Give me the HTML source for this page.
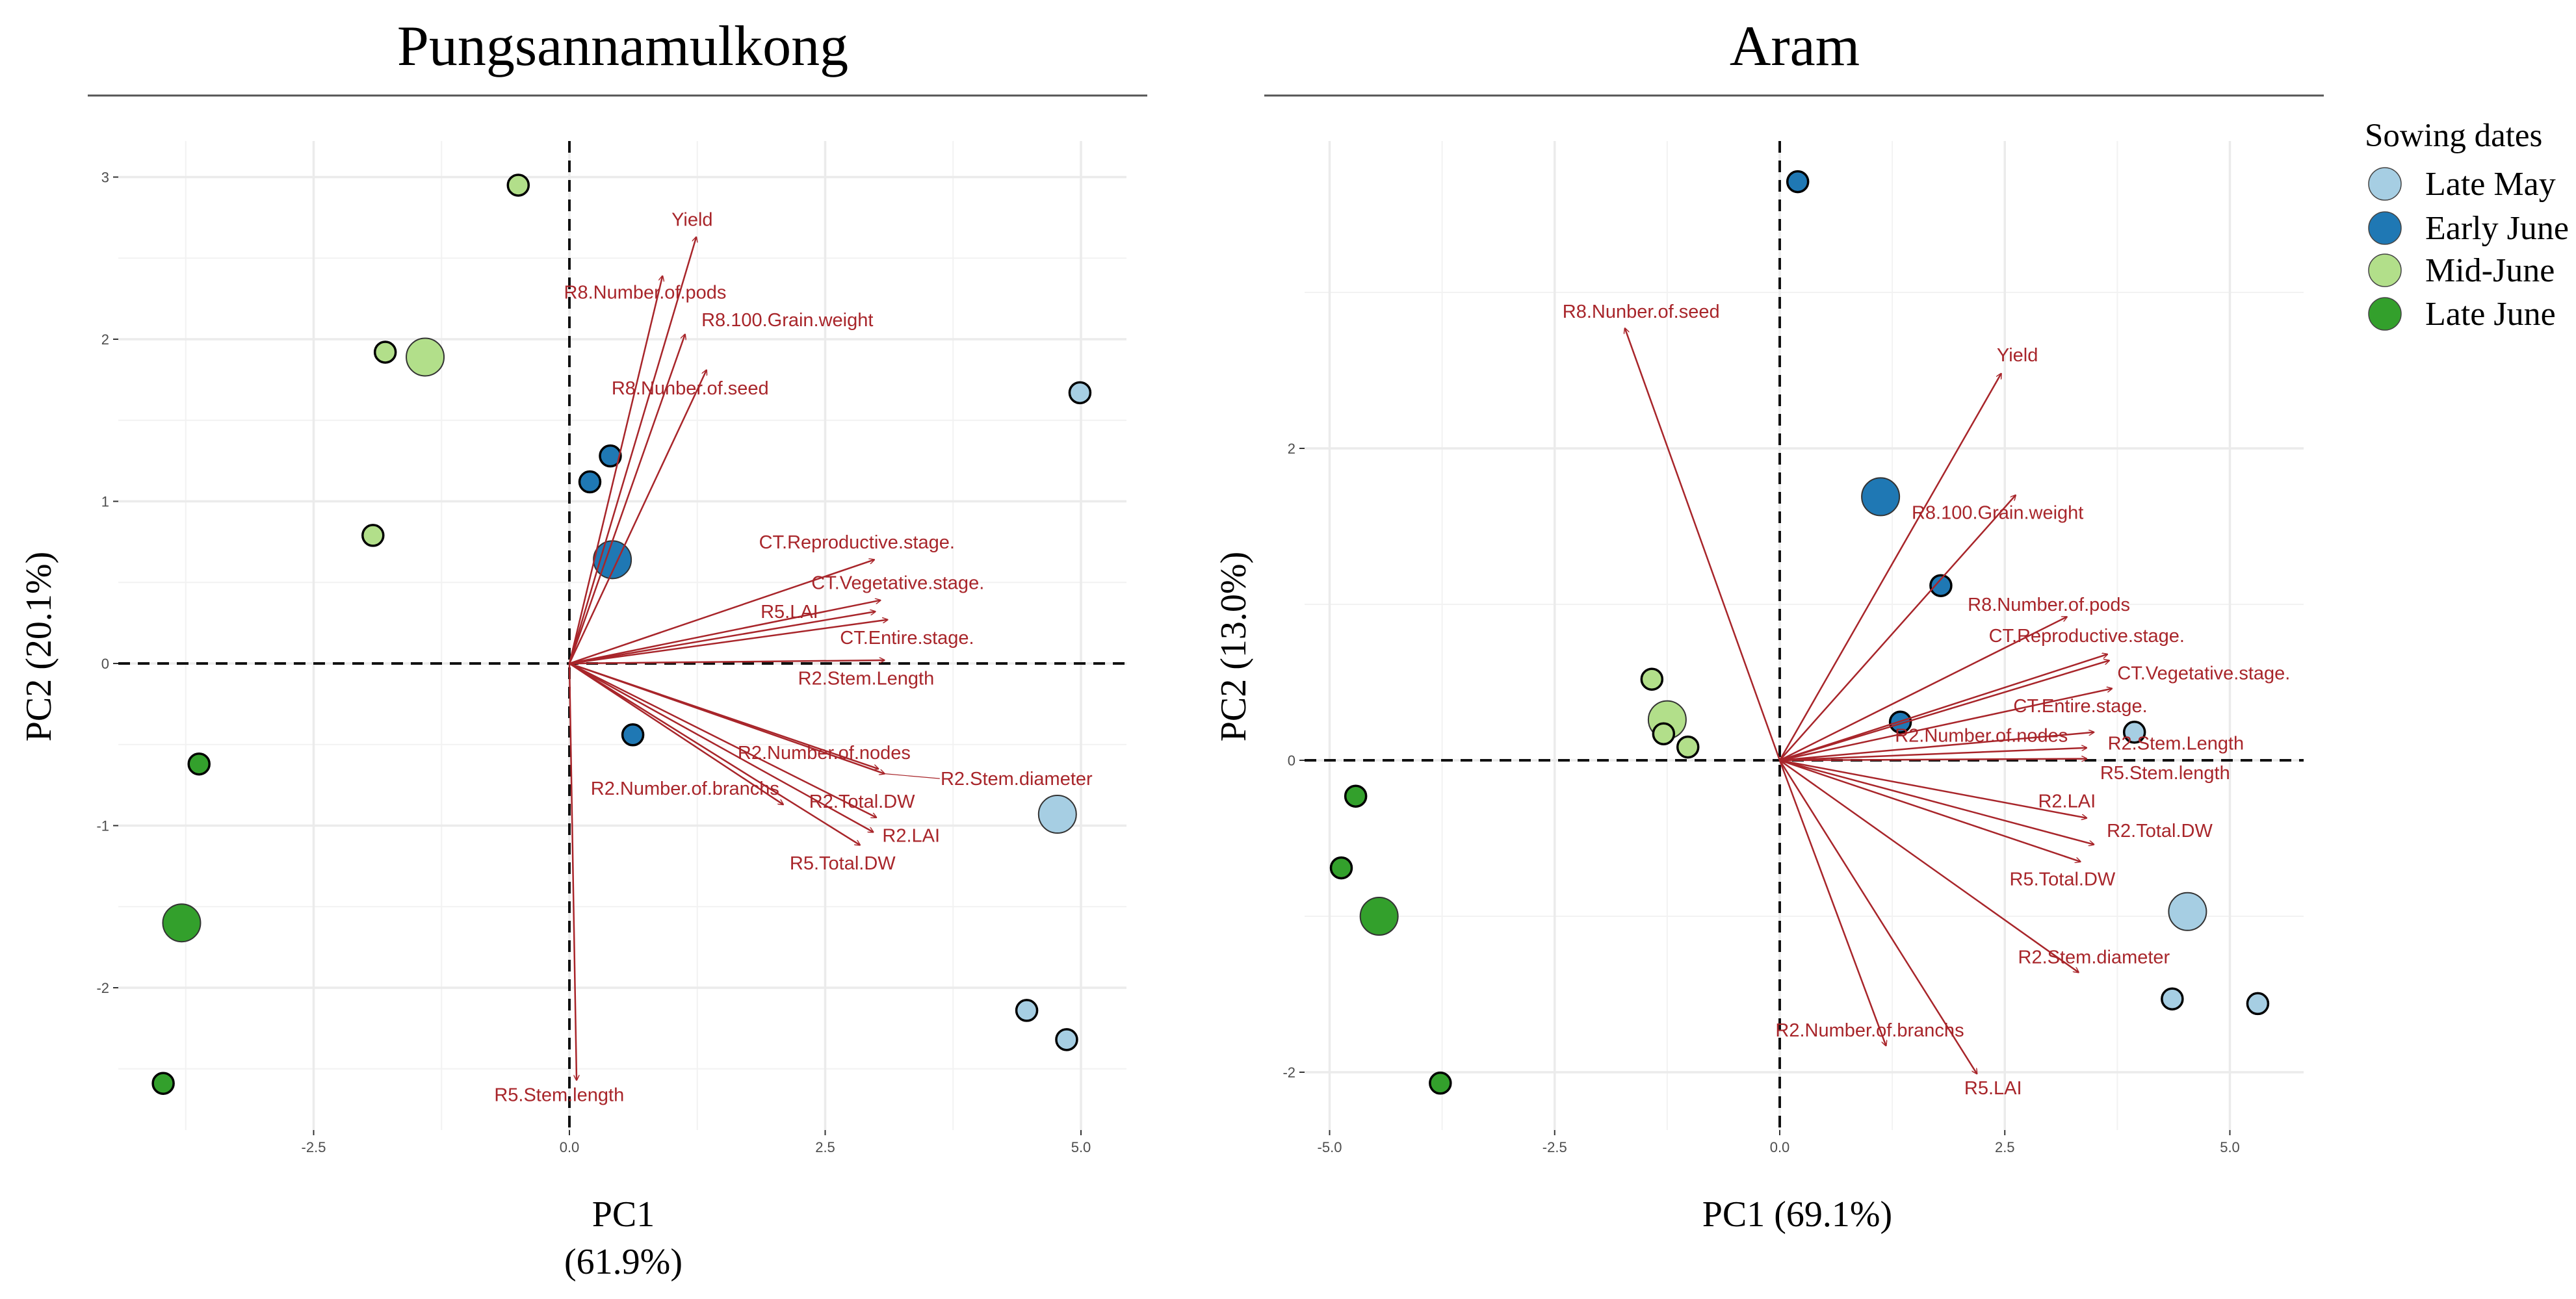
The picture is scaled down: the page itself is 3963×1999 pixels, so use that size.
<!DOCTYPE html>
<html><head><meta charset="utf-8">
<style>
html,body{margin:0;padding:0;background:#fff;}
svg{display:block;}
.tick{font-family:"Liberation Sans",sans-serif;font-size:22px;fill:#4d4d4d;}
.lab{font-family:"Liberation Sans",sans-serif;font-size:29px;fill:#a8252a;}
.serif{font-family:"Liberation Serif",serif;fill:#000;}
</style></head>
<body>
<svg id="chart" width="3963" height="1999" viewBox="0 0 3963 1999" xmlns="http://www.w3.org/2000/svg">
<defs>
<marker id="ah" viewBox="0 0 10 10" refX="9" refY="5" markerWidth="9" markerHeight="9" markerUnits="userSpaceOnUse" orient="auto">
<path d="M0,0 L10,5 L0,10" fill="none" stroke="#a8252a" stroke-width="1.6"/>
</marker>
</defs>
<g id="left"></g>
<g id="right"></g>
<g id="legend"></g>
</svg>
<script>
// ---------- data ----------
const groupNames = ["Late May","Early June","Mid-June","Late June"];
const groupColors = ["#a6cee3","#1f78b4","#b2df8a","#33a02c"];

// Left panel (Pungsannamulkong)
const L_ptX = [4.99,4.77,4.47,4.86, 0.40,0.20,0.42,0.62, -0.50,-1.80,-1.41,-1.92, -3.62,-3.79,-3.97];
const L_ptY = [1.67,-0.93,-2.14,-2.32, 1.28,1.12,0.64,-0.44, 2.95,1.92,1.89,0.79, -0.62,-1.60,-2.59];
const L_ptG = [0,0,0,0, 1,1,1,1, 2,2,2,2, 3,3,3];
const L_ptBig = [0,1,0,0, 0,0,1,0, 0,0,1,0, 0,1,0];
const L_varNames = ["Yield","R8.Number.of.pods","R8.100.Grain.weight","R8.Nunber.of.seed","CT.Reproductive.stage.","CT.Vegetative.stage.","R5.LAI","CT.Entire.stage.","R2.Stem.Length","R2.Number.of.nodes","R2.Stem.diameter","R2.Number.of.branchs","R2.Total.DW","R2.LAI","R5.Total.DW","R5.Stem.length"];
const L_arrX = [1.24,0.91,1.13,1.34,2.98,3.04,2.99,3.11,3.08,3.02,3.08,2.09,3.00,2.97,2.84,0.07];
const L_arrY = [2.63,2.39,2.03,1.81,0.64,0.39,0.32,0.27,0.02,-0.65,-0.68,-0.87,-0.95,-1.04,-1.12,-2.57];
const L_labX = [1.20,0.74,2.13,1.18,2.81,3.21,2.15,3.30,2.90,2.49,4.37,1.13,2.86,3.34,2.67,-0.10];
const L_labY = [2.74,2.29,2.12,1.70,0.75,0.50,0.32,0.16,-0.09,-0.55,-0.71,-0.77,-0.85,-1.06,-1.23,-2.66];
const L_xTicks = [-2.5,0,2.5,5];
const L_xTickLabels = ["-2.5","0.0","2.5","5.0"];
const L_yTicks = [-2,-1,0,1,2,3];
const L_yTickLabels = ["-2","-1","0","1","2","3"];

// Right panel (Aram)
const R_ptX = [3.94,4.53,4.36,5.31, 0.20,1.12,1.79,1.34, -1.42,-1.25,-1.29,-1.02, -4.71,-4.87,-4.45,-3.77];
const R_ptY = [0.18,-0.97,-1.53,-1.56, 3.71,1.69,1.12,0.245, 0.52,0.26,0.17,0.085, -0.23,-0.69,-1.00,-2.07];
const R_ptG = [0,0,0,0, 1,1,1,1, 2,2,2,2, 3,3,3,3];
const R_ptBig = [0,1,0,0, 0,1,0,0, 0,1,0,0, 0,0,1,0];
const R_varNames = ["R8.Nunber.of.seed","Yield","R8.100.Grain.weight","R8.Number.of.pods","CT.Reproductive.stage.","CT.Vegetative.stage.","CT.Entire.stage.","R2.Number.of.nodes","R2.Stem.Length","R5.Stem.length","R2.LAI","R2.Total.DW","R5.Total.DW","R2.Stem.diameter","R2.Number.of.branchs","R5.LAI"];
const R_arrX = [-1.72,2.46,2.62,3.19,3.64,3.66,3.69,3.49,3.41,3.41,3.41,3.49,3.34,3.32,1.18,2.19];
const R_arrY = [2.77,2.48,1.70,0.92,0.68,0.64,0.46,0.18,0.08,0.01,-0.37,-0.54,-0.65,-1.36,-1.83,-2.01];
const R_labX = [-1.54,2.64,2.42,2.99,3.41,4.71,3.34,2.24,4.40,4.28,3.19,4.22,3.14,3.49,1.00,2.37];
const R_labY = [2.88,2.60,1.59,1.00,0.80,0.56,0.35,0.16,0.11,-0.08,-0.26,-0.45,-0.76,-1.26,-1.73,-2.10];
const R_xTicks = [-5,-2.5,0,2.5,5];
const R_xTickLabels = ["-5.0","-2.5","0.0","2.5","5.0"];
const R_yTicks = [-2,0,2];
const R_yTickLabels = ["-2","0","2"];

// ---------- drawing ----------
const NS = "http://www.w3.org/2000/svg";
function mk(tag, attrs, parent){
  const e = document.createElementNS(NS, tag);
  for (const k in attrs) e.setAttribute(k, attrs[k]);
  parent.appendChild(e);
  return e;
}

function panel(g, cfg){
  const sx = v => cfg.x0 + cfg.kx*v;
  const sy = v => cfg.y0 - cfg.ky*v;
  const t = mk("text",{x:cfg.titleX,y:100,"text-anchor":"middle","font-size":88,class:"serif"},g);
  t.textContent = cfg.title;
  
  
  const rule = mk("line",{x1:cfg.ruleX1,x2:cfg.ruleX2,y1:147,y2:147,stroke:"#555","stroke-width":3},g);
  
  
  const grid = mk("g",{},g);
  
  
  cfg.minorX.forEach(v=>{ const p=sx(v); if(p>cfg.left&&p<cfg.right) mk("line",{x1:p,x2:p,y1:cfg.top,y2:cfg.bottom,stroke:"#f2f2f2","stroke-width":2},grid);});
  cfg.minorY.forEach(v=>{ const p=sy(v); if(p>cfg.top&&p<cfg.bottom) mk("line",{x1:cfg.left,x2:cfg.right,y1:p,y2:p,stroke:"#f2f2f2","stroke-width":2},grid);});
  cfg.xTicks.forEach(v=>mk("line",{x1:sx(v),x2:sx(v),y1:cfg.top,y2:cfg.bottom,stroke:"#ebebeb","stroke-width":3.5},grid));
  cfg.yTicks.forEach(v=>mk("line",{x1:cfg.left,x2:cfg.right,y1:sy(v),y2:sy(v),stroke:"#ebebeb","stroke-width":3.5},grid));
  cfg.xTicks.forEach((v,i)=>{
    mk("line",{x1:sx(v),x2:sx(v),y1:cfg.bottom,y2:cfg.bottom+8,stroke:"#333","stroke-width":2},g);
    const tx = mk("text",{x:sx(v),y:cfg.bottom+34,"text-anchor":"middle",class:"tick"},g);
    tx.textContent = cfg.xTickLabels[i];
    
    
  });
  cfg.yTicks.forEach((v,i)=>{
    mk("line",{x1:cfg.left-8,x2:cfg.left,y1:sy(v),y2:sy(v),stroke:"#333","stroke-width":2},g);
    const ty = mk("text",{x:cfg.left-14,y:sy(v)+8,"text-anchor":"end",class:"tick"},g);
    ty.textContent = cfg.yTickLabels[i];
    
    
  });
  const zh = mk("line",{x1:cfg.left,x2:cfg.right,y1:sy(0),y2:sy(0),stroke:"#111","stroke-width":4,"stroke-dasharray":"18,12"},g);
  
  
  const zv = mk("line",{x1:sx(0),x2:sx(0),y1:cfg.top,y2:cfg.bottom,stroke:"#111","stroke-width":4,"stroke-dasharray":"18,12"},g);
  
  
  cfg.ptX.forEach((v,i)=>{
    const big = cfg.ptBig[i];
    const c = mk("circle",{cx:sx(v),cy:sy(cfg.ptY[i]),r:big?29:16,fill:groupColors[cfg.ptG[i]],stroke:big?"#333":"#000","stroke-width":big?2:3.5},g);
    
    
  });
  cfg.arrX.forEach((v,i)=>{
    const a = mk("line",{x1:sx(0),y1:sy(0),x2:sx(v),y2:sy(cfg.arrY[i]),stroke:"#a8252a","stroke-width":2.5,"marker-end":"url(#ah)"},g);
    
    
  });
  cfg.varNames.forEach((n,i)=>{
    const lb = mk("text",{x:sx(cfg.labX[i]),y:sy(cfg.labY[i])+10,"text-anchor":"middle",class:"lab"},g);
    lb.textContent = n;
    
    
  });
  if (cfg.seg) {
    const s = mk("line",{x1:sx(cfg.seg[0]),y1:sy(cfg.seg[1]),x2:sx(cfg.seg[2]),y2:sy(cfg.seg[3]),stroke:"#a8252a","stroke-width":1.2},g);
    
    
  }
}

panel(document.getElementById("left"),{
  title:"Pungsannamulkong", titleX:958, ruleX1:135, ruleX2:1765,
  x0:876, kx:157.4, y0:1021, ky:249.5,
  left:182, right:1733, top:217, bottom:1739,
  xTicks:L_xTicks, xTickLabels:L_xTickLabels, yTicks:L_yTicks, yTickLabels:L_yTickLabels,
  minorX:[-3.75,-1.25,1.25,3.75], minorY:[-2.5,-1.5,-0.5,0.5,1.5,2.5],
  ptX:L_ptX, ptY:L_ptY, ptG:L_ptG, ptBig:L_ptBig,
  arrX:L_arrX, arrY:L_arrY, labX:L_labX, labY:L_labY, varNames:L_varNames,
  seg:[3.08,-0.68,3.62,-0.71]
});
panel(document.getElementById("right"),{
  title:"Aram", titleX:2761, ruleX1:1945, ruleX2:3575,
  x0:2738, kx:138.5, y0:1170, ky:240,
  left:2007, right:3544, top:217, bottom:1739,
  xTicks:R_xTicks, xTickLabels:R_xTickLabels, yTicks:R_yTicks, yTickLabels:R_yTickLabels,
  minorX:[-3.75,-1.25,1.25,3.75], minorY:[-3,-1,1,3],
  ptX:R_ptX, ptY:R_ptY, ptG:R_ptG, ptBig:R_ptBig,
  arrX:R_arrX, arrY:R_arrY, labX:R_labX, labY:R_labY, varNames:R_varNames
});

const svg = document.getElementById("chart");
function txt(s, attrs, name){
  const e = mk("text", attrs, svg);
  e.textContent = s;
  
  
  return e;
}
txt("PC2 (20.1%)",{x:0,y:0,"text-anchor":"middle","font-size":56,class:"serif",transform:"translate(78,995) rotate(-90)"},"y-axis-title-left");
txt("PC1",{x:959,y:1887,"text-anchor":"middle","font-size":56,class:"serif"},"x-axis-title-left");
txt("(61.9%)",{x:959,y:1960,"text-anchor":"middle","font-size":56,class:"serif"},"x-axis-percent-left");
txt("PC2 (13.0%)",{x:0,y:0,"text-anchor":"middle","font-size":56,class:"serif",transform:"translate(1916,995) rotate(-90)"},"y-axis-title-right");
txt("PC1 (69.1%)",{x:2765,y:1887,"text-anchor":"middle","font-size":56,class:"serif"},"x-axis-title-right");

const lg = document.getElementById("legend");
const lt = mk("text",{x:3638,y:225,"font-size":51,class:"serif"},lg);
lt.textContent = "Sowing dates";


const legY = [283,351,416,483];
groupNames.forEach((n,i)=>{
  const c = mk("circle",{cx:3669,cy:legY[i],r:25,fill:groupColors[i],stroke:"#444","stroke-width":1.5},lg);
  
  
  const t = mk("text",{x:3731,y:legY[i]+17,"font-size":52,class:"serif"},lg);
  t.textContent = n;
  
  
});
</script>
</body></html>
